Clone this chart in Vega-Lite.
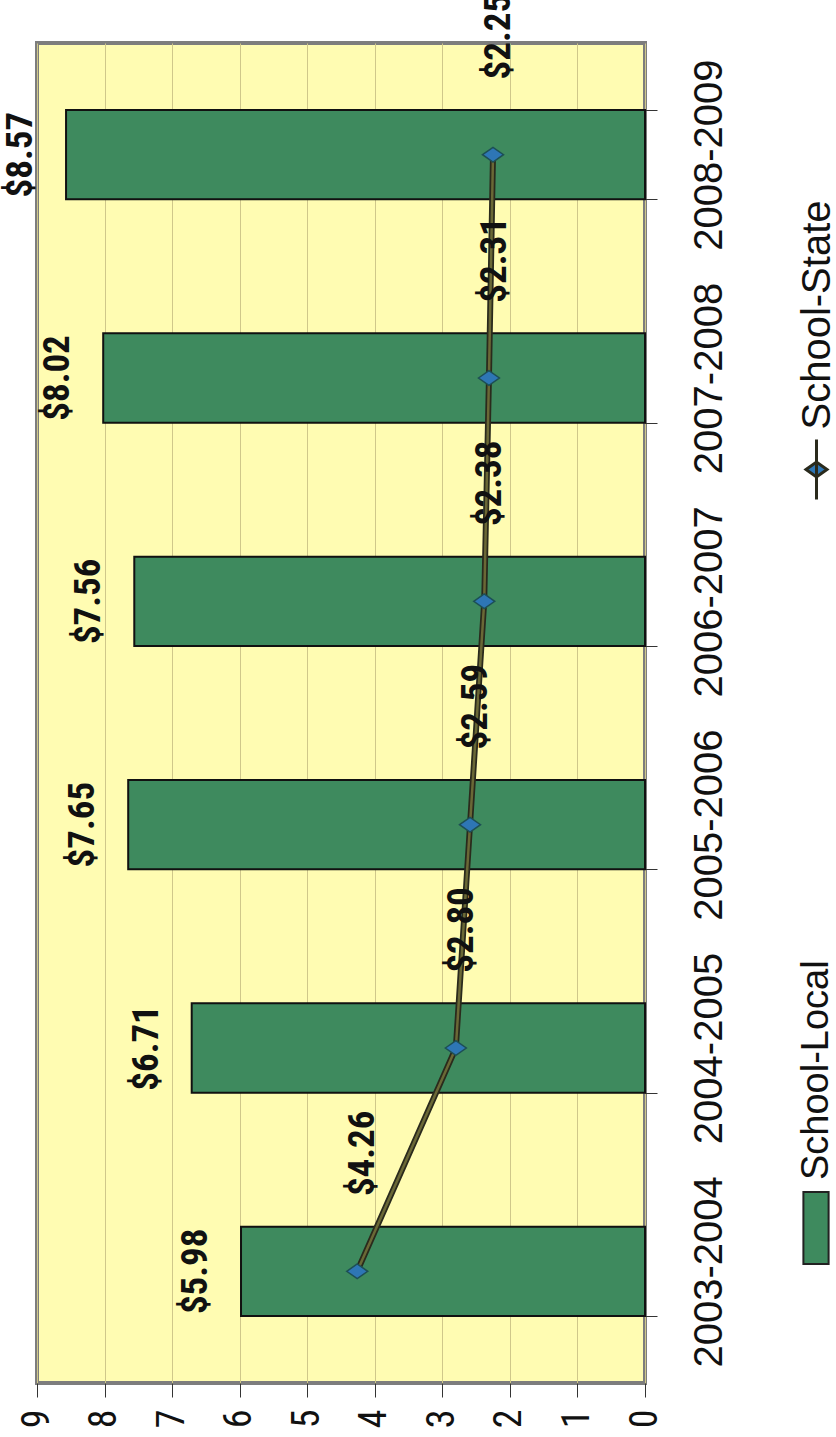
{
  "$schema": "https://vega.github.io/schema/vega-lite/v6.json",
  "width": 608,
  "height": 1340,
  "autosize": "none",
  "padding": {"left": 37, "top": 43, "right": 191, "bottom": 54},
  "background": "white",
  "config": {
    "view": {"fill": "#FFFCB2", "stroke": "#7d7d7d", "strokeWidth": 4},
    "font": "Liberation Sans"
  },
  "data": {
    "values": [
      {"year": "2003-2004", "local": 5.98, "state": 4.26},
      {"year": "2004-2005", "local": 6.71, "state": 2.80},
      {"year": "2005-2006", "local": 7.65, "state": 2.59},
      {"year": "2006-2007", "local": 7.56, "state": 2.38},
      {"year": "2007-2008", "local": 8.02, "state": 2.31},
      {"year": "2008-2009", "local": 8.57, "state": 2.25}
    ]
  },
  "encoding": {
    "y": {
      "field": "year",
      "type": "nominal",
      "sort": ["2008-2009", "2007-2008", "2006-2007", "2005-2006", "2004-2005", "2003-2004"],
      "scale": {"paddingInner": 0.6, "paddingOuter": 0.3},
      "axis": {
        "orient": "right",
        "title": null,
        "domain": false,
        "ticks": true,
        "tickBand": "extent",
        "tickSize": 12,
        "tickColor": "#333",
        "labelAngle": 270,
        "labelAlign": "center",
        "labelBaseline": "top",
        "labelPadding": 32,
        "labelLimit": 0,
        "labelFontSize": 40,
        "labelFont": "Liberation Sans",
        "labelColor": "#111"
      }
    }
  },
  "layer": [
    {
      "mark": {"type": "bar", "stroke": "#111", "strokeWidth": 2},
      "encoding": {
        "x": {
          "field": "local",
          "type": "quantitative",
          "scale": {"domain": [0, 9], "reverse": true, "nice": false, "zero": true},
          "axis": {
            "orient": "bottom",
            "title": null,
            "values": [0, 1, 2, 3, 4, 5, 6, 7, 8, 9],
            "format": "d",
            "grid": true,
            "gridColor": "#CFC78A",
            "gridWidth": 1,
            "domain": false,
            "tickColor": "#333",
            "tickSize": 14,
            "labelAngle": 270,
            "labelAlign": "right",
            "labelBaseline": "middle",
            "labelPadding": 12,
            "labelLimit": 0,
            "labelFontSize": 38,
            "labelFont": "Liberation Sans Narrow, Roboto Condensed, Liberation Sans",
            "labelColor": "#111"
          }
        },
        "fill": {
          "datum": "School-Local",
          "scale": {"range": ["#3E8A5E"]},
          "legend": {
            "orient": "none",
            "legendX": 742,
            "legendY": 1148,
            "title": null,
            "padding": 0,
            "symbolType": "M-0.35,-1H0.35V1H-0.35Z",
            "symbolSize": 5184,
            "symbolStrokeColor": "#222",
            "symbolStrokeWidth": 2,
            "labelFontSize": 38,
            "labelFont": "Liberation Sans",
            "labelColor": "#111",
            "labelOffset": 0,
            "labelLimit": 0,
            "encoding": {
              "labels": {
                "angle": {"value": 270},
                "align": {"value": "left"},
                "baseline": {"value": "middle"},
                "dx": {"value": 48},
                "dy": {"value": -36}
              }
            }
          }
        }
      }
    },
    {
      "mark": {"type": "line", "strokeWidth": 6},
      "encoding": {
        "x": {"field": "state", "type": "quantitative"},
        "stroke": {
          "datum": "School-State",
          "scale": {"range": ["#2a2a1c"]},
          "legend": {
            "orient": "none",
            "legendX": 748,
            "legendY": 395,
            "title": null,
            "padding": 0,
            "symbolType": "M0,-1V1M-0.35,0L0,-0.25L0.35,0L0,0.25Z",
            "symbolSize": 3600,
            "symbolStrokeWidth": 3,
            "symbolFillColor": "#2E76B5",
            "labelFontSize": 40,
            "labelFont": "Liberation Sans",
            "labelColor": "#111",
            "labelOffset": 0,
            "labelLimit": 0,
            "encoding": {
              "symbols": {"fill": {"value": "#2E76B5"}},
              "labels": {
                "angle": {"value": 270},
                "align": {"value": "left"},
                "baseline": {"value": "middle"},
                "dx": {"value": 40},
                "dy": {"value": -30}
              }
            }
          }
        }
      }
    },
    {
      "mark": {"type": "line", "strokeWidth": 2.5, "color": "#6a6836"},
      "encoding": {"x": {"field": "state", "type": "quantitative"}}
    },
    {
      "mark": {
        "type": "point",
        "shape": "M-1,0L0,-0.7L1,0L0,0.7Z",
        "filled": true,
        "fill": "#2E76B5",
        "stroke": "#1d4f55",
        "strokeWidth": 1.5,
        "size": 441,
        "opacity": 1
      },
      "encoding": {"x": {"field": "state", "type": "quantitative"}}
    },
    {
      "mark": {
        "type": "text",
        "angle": 270,
        "align": "center",
        "baseline": "middle",
        "xOffset": -45,
        "fontSize": 37,
        "fontWeight": "bold",
        "font": "Liberation Sans Narrow, Roboto Condensed, Liberation Sans",
        "color": "#111"
      },
      "encoding": {
        "x": {"field": "local", "type": "quantitative"},
        "text": {"field": "local", "type": "quantitative", "format": "$.2f"}
      }
    },
    {
      "mark": {
        "type": "text",
        "angle": 270,
        "align": "center",
        "baseline": "middle",
        "xOffset": 6,
        "yOffset": -118,
        "fontSize": 37,
        "fontWeight": "bold",
        "font": "Liberation Sans Narrow, Roboto Condensed, Liberation Sans",
        "color": "#111"
      },
      "encoding": {
        "x": {"field": "state", "type": "quantitative"},
        "text": {"field": "state", "type": "quantitative", "format": "$.2f"}
      }
    }
  ]
}
